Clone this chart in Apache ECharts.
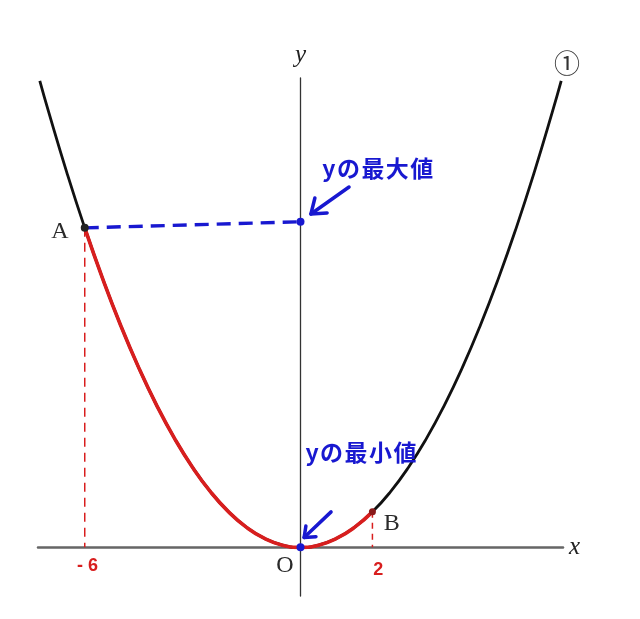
<!DOCTYPE html>
<html><head><meta charset="utf-8">
<script src="https://cdn.jsdelivr.net/npm/echarts@6/dist/echarts.min.js"></script>
<style>html,body{margin:0;padding:0;background:#fff}#c{width:640px;height:619px}</style>
</head><body><div id="c"></div>
<script>
// parabola ① y = x^2/4 (sampled values)
const curveX = [-7.25,-7,-6.5,-6,-5.5,-5,-4.5,-4,-3.5,-3,-2.5,-2,-1.5,-1,-0.5,0,0.5,1,1.5,2,2.5,3,3.5,4,4.5,5,5.5,6,6.5,7,7.25];
const curveY = [13.14,12.25,10.5625,9,7.5625,6.25,5.0625,4,3.0625,2.25,1.5625,1,0.5625,0.25,0.0625,0,0.0625,0.25,0.5625,1,1.5625,2.25,3.0625,4,5.0625,6.25,7.5625,9,10.5625,12.25,13.14];
// red part: -6 <= x <= 2
const redX = [-6,-5.5,-5,-4.5,-4,-3.5,-3,-2.5,-2,-1.5,-1,-0.5,0,0.5,1,1.5,2];
const redY = [9,7.5625,6.25,5.0625,4,3.0625,2.25,1.5625,1,0.5625,0.25,0.0625,0,0.0625,0.25,0.5625,1];
const pointA = [-6, 9];
const pointB = [2, 1];
const maxMark = [0, 9.17];
const minMark = [0, 0];
const arrowMaxShaft = [[1.35,10.15],[0.29,9.39]];
const arrowMaxHead = [[0.40,9.84],[0.29,9.39],[0.74,9.42]];
const arrowMinShaft = [[0.85,1.0],[0.10,0.28]];
const arrowMinHead = [[0.15,0.60],[0.10,0.28],[0.43,0.30]];
const serifLabels = [['A',-6.69,8.88],['B',2.54,0.66],['O',-0.43,-0.52]];
const tickLabels = [['- 6',-5.92,-0.52],['2',2.16,-0.64]];
const jpLabels = [['y\u200aの\u200a最\u200a大\u200a値',2.15,10.69],['y\u200aの\u200a最\u200a小\u200a値',1.68,2.69]];
const circledLabel = [['①',7.41,13.65]];

const zip = (xs, ys) => xs.map((x, i) => [x, ys[i]]);
const blue = '#1818d0', red = '#d81e1e';

const chart = echarts.init(document.getElementById('c'));
function textScatter(items, style) {
  return {
    type: 'scatter', symbolSize: 0, clip: false, silent: true, z: 10,
    itemStyle: { opacity: 1 },
    data: items.map(t => ({ value: [t[1], t[2]], name: t[0] })),
    label: Object.assign({ show: true, position: 'inside', opacity: 1, formatter: p => p.name }, style)
  };
}
chart.setOption({
  animation: false,
  grid: { left: 38, right: 77, top: 78, bottom: 23 },
  xAxis: {
    type: 'value', min: -7.3, max: 7.3,
    axisLine: { onZero: true, lineStyle: { color: '#666', width: 2.5 } },
    axisTick: { show: false }, axisLabel: { show: false }, splitLine: { show: false },
    name: 'x', nameLocation: 'end', nameGap: 6,
    nameTextStyle: { fontFamily: 'Liberation Serif', fontStyle: 'italic', fontSize: 25, color: '#222', verticalAlign: 'middle' }
  },
  yAxis: {
    type: 'value', min: -1.37, max: 13.22,
    axisLine: { onZero: true, lineStyle: { color: '#333', width: 1.3 } },
    axisTick: { show: false }, axisLabel: { show: false }, splitLine: { show: false },
    name: 'y', nameLocation: 'end', nameGap: 10,
    nameTextStyle: { fontFamily: 'Liberation Serif', fontStyle: 'italic', fontSize: 25, color: '#222', align: 'center' }
  },
  series: [
    { type: 'line', data: zip(curveX, curveY), smooth: true, showSymbol: false, clip: false,
      lineStyle: { color: '#111', width: 2.8 }, z: 2 },
    { type: 'line', data: zip(redX, redY), smooth: true, showSymbol: false,
      lineStyle: { color: red, width: 3.6 }, z: 3 },
    { type: 'line', data: [pointA, maxMark], showSymbol: false,
      lineStyle: { color: blue, width: 3.4, type: [14, 8] }, z: 3 },
    { type: 'line', data: [pointA, [pointA[0], 0]], showSymbol: false,
      lineStyle: { color: red, width: 1.5, type: [9, 6] }, z: 1 },
    { type: 'line', data: [pointB, [pointB[0], 0]], showSymbol: false,
      lineStyle: { color: red, width: 1.5, type: [6, 5] }, z: 1 },
    { type: 'line', data: arrowMaxShaft, showSymbol: false, lineStyle: { color: blue, width: 3.5, cap: 'round' }, z: 4 },
    { type: 'line', data: arrowMaxHead, showSymbol: false, lineStyle: { color: blue, width: 3.5, cap: 'round', join: 'round' }, z: 4 },
    { type: 'line', data: arrowMinShaft, showSymbol: false, lineStyle: { color: blue, width: 3.5, cap: 'round' }, z: 4 },
    { type: 'line', data: arrowMinHead, showSymbol: false, lineStyle: { color: blue, width: 3.5, cap: 'round', join: 'round' }, z: 4 },
    { type: 'scatter', z: 6, symbolSize: 8, itemStyle: { opacity: 1 }, data: [
        { value: pointA, itemStyle: { color: '#222', opacity: 1 } },
        { value: pointB, itemStyle: { color: '#8a1a1a', opacity: 1 }, symbolSize: 7 },
        { value: maxMark, itemStyle: { color: blue, opacity: 1 } },
        { value: minMark, itemStyle: { color: blue, opacity: 1 } }
      ] },
    textScatter(serifLabels, { fontFamily: 'Liberation Serif', fontSize: 24, color: '#2a2a2a' }),
    textScatter(tickLabels, { fontFamily: 'Liberation Sans', fontWeight: 'bold', fontSize: 18, color: red }),
    textScatter(jpLabels, { fontFamily: 'Noto Sans CJK JP', fontWeight: 'bold', fontSize: 23, color: blue }),
    textScatter(circledLabel, { fontFamily: 'Noto Sans CJK JP', fontSize: 26, color: '#333' })
  ]
});
</script></body></html>
